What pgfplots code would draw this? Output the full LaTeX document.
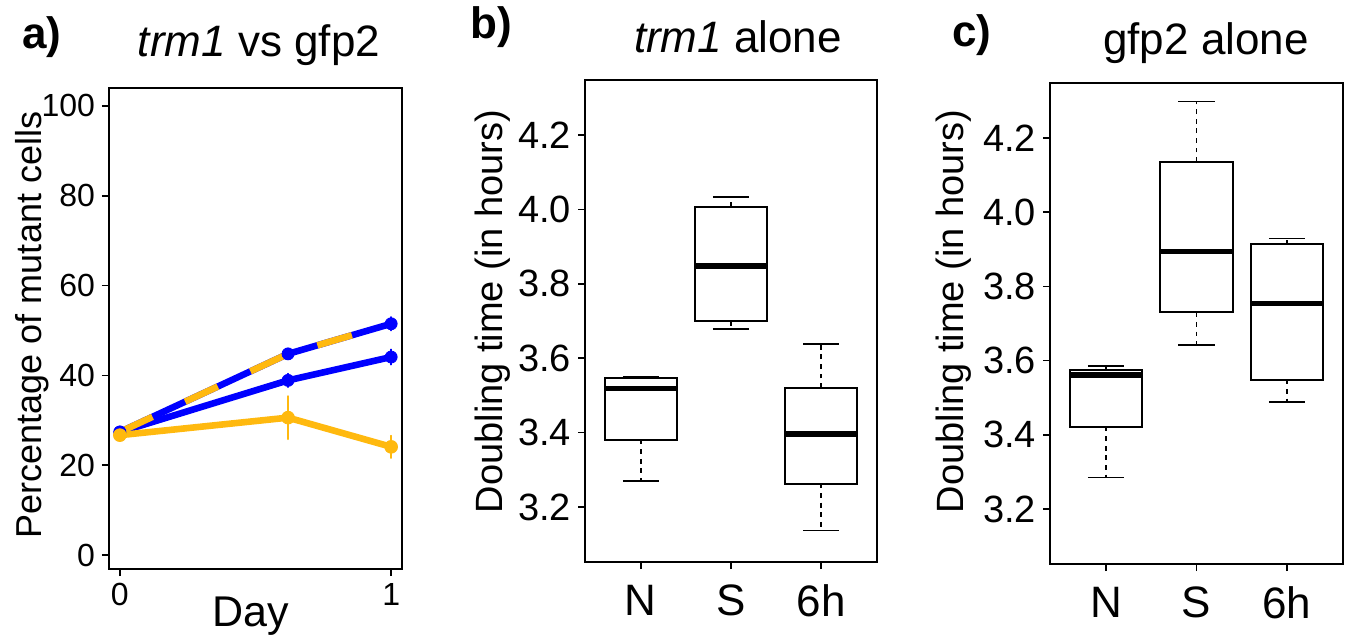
\documentclass[border=0pt]{standalone}
\usepackage{fontspec}
\setmainfont{Liberation Sans}
\usepackage{pgfplots}
\usepackage{pgfplotstable}
\pgfplotsset{compat=1.18}
\usepgfplotslibrary{statistics}
\definecolor{rblue}{RGB}{0,0,255}
\definecolor{rorange}{RGB}{255,185,15}

\pgfplotstableread{
x y e
0 27.4 0.0
0.62 38.9 1.5
1 44.1 1.7
}\bluesolid
\pgfplotstableread{
x y e
0 27.4 0.0
0.62 44.8 1.2
1 51.5 1.5
}\bluedash
\pgfplotstableread{
x y e
0 26.7 1.0
0.62 30.6 4.8
1 24.1 2.5
}\orangesolid

\pgfplotsset{
  rframe/.style={
    scale only axis, anchor=south west,
    axis line style={line width=1pt},
    tick pos=left, tick align=outside, major tick length=3.5pt,
    every tick/.style={black, line width=0.8pt},
    /pgf/number format/assume math mode=true,
  },
  rbox/.style={
    rframe,
    xmin=0.38, xmax=3.62, ymin=3.052, ymax=4.348,
    xtick={1,2,3}, xticklabels={N,S,6h},
    ytick={3.2,3.4,3.6,3.8,4.0,4.2},
    yticklabel style={font=\fontsize{19}{19}\selectfont,
      /pgf/number format/fixed, /pgf/number format/fixed zerofill,
      /pgf/number format/precision=1},
    xticklabel style={font=\fontsize{22}{22}\selectfont, yshift=-4.5pt},
    boxplot/draw direction=y,
    boxplot/box extend=0.8,
    boxplot/whisker extend=0.4,
    boxplot/every box/.style={line width=1pt, fill=white},
    boxplot/every median/.style={line width=2.6pt},
    boxplot/draw/lower whisker/.code={%
      \draw[line width=0.8pt, dash pattern=on 2.4pt off 2.4pt]
        (boxplot cs:\pgfplotsboxplotvalue{lower quartile}) --
        (boxplot cs:\pgfplotsboxplotvalue{lower whisker});
      \draw[line width=0.8pt]
        (boxplot whisker cs:\pgfplotsboxplotvalue{lower whisker},0) --
        (boxplot whisker cs:\pgfplotsboxplotvalue{lower whisker},1);
    },
    boxplot/draw/upper whisker/.code={%
      \draw[line width=0.8pt, dash pattern=on 2.4pt off 2.4pt]
        (boxplot cs:\pgfplotsboxplotvalue{upper quartile}) --
        (boxplot cs:\pgfplotsboxplotvalue{upper whisker});
      \draw[line width=0.8pt]
        (boxplot whisker cs:\pgfplotsboxplotvalue{upper whisker},0) --
        (boxplot whisker cs:\pgfplotsboxplotvalue{upper whisker},1);
    },
  },
}

\begin{document}
\begin{tikzpicture}
\path[use as bounding box] (0pt,0pt) rectangle (674pt,318.5pt);

% ---------- panel a ----------
\begin{axis}[rframe,
  at={(54.5pt,34pt)}, width=146.5pt, height=240.5pt,
  xmin=-0.04, xmax=1.04, ymin=-3.1, ymax=104,
  xtick={0,1}, ytick={0,20,40,60,80,100},
  ticklabel style={font=\fontsize{16}{16}\selectfont},
  clip=false]
\addplot[rblue, line width=3.3pt, line join=round, line cap=round,
  mark=*, mark size=3pt, mark options={solid, line width=0.4pt},
  error bars/.cd, y dir=both, y explicit, error mark=none,
  error bar style={line width=0.8pt, rblue}]
  table[x=x, y=y, y error=e] {\bluesolid};
\addplot[rblue, line width=3.3pt, line join=round, line cap=round,
  mark=*, mark size=3pt, mark options={solid, line width=0.4pt},
  error bars/.cd, y dir=both, y explicit, error mark=none,
  error bar style={line width=0.8pt, rblue}]
  table[x=x, y=y, y error=e] {\bluedash};
\addplot[rorange, line width=3.3pt, line cap=butt, dash pattern=on 18pt off 18pt]
  table[x=x, y=y] {\bluedash};
\addplot[rorange, line width=3.3pt, line join=round, line cap=round,
  mark=*, mark size=3.2pt, mark options={solid, line width=0.4pt},
  error bars/.cd, y dir=both, y explicit, error mark=none,
  error bar style={line width=0.8pt, rorange}]
  table[x=x, y=y, y error=e] {\orangesolid};
\end{axis}

% ---------- panel b ----------
\begin{axis}[rbox, at={(292.5pt,37.5pt)}, width=146pt, height=241pt]
\addplot[black, boxplot prepared={draw position=1, lower whisker=3.269,
  lower quartile=3.381, median=3.518, upper quartile=3.547, upper whisker=3.550}]
  coordinates {};
\addplot[black, boxplot prepared={draw position=2, lower whisker=3.679,
  lower quartile=3.699, median=3.848, upper quartile=4.007, upper whisker=4.034}]
  coordinates {};
\addplot[black, boxplot prepared={draw position=3, lower whisker=3.137,
  lower quartile=3.263, median=3.396, upper quartile=3.520, upper whisker=3.638}]
  coordinates {};
\end{axis}

% ---------- panel c ----------
\begin{axis}[rbox, at={(525pt,36.5pt)}, width=146.5pt, height=240.5pt]
\addplot[black, boxplot prepared={draw position=1, lower whisker=3.285,
  lower quartile=3.422, median=3.561, upper quartile=3.574, upper whisker=3.586}]
  coordinates {};
\addplot[black, boxplot prepared={draw position=2, lower whisker=3.642,
  lower quartile=3.730, median=3.894, upper quartile=4.135, upper whisker=4.298}]
  coordinates {};
\addplot[black, boxplot prepared={draw position=3, lower whisker=3.489,
  lower quartile=3.549, median=3.754, upper quartile=3.913, upper whisker=3.929}]
  coordinates {};
\end{axis}

% ---------- texts ----------
\node[anchor=base west, inner sep=0pt, font=\fontsize{22}{22}\selectfont\bfseries] at (11pt,294pt) {a)};
\node[anchor=base, inner sep=0pt, font=\fontsize{22}{22}\selectfont] at (129.5pt,290pt) {\textit{trm1} vs gfp2};
\node[anchor=base west, inner sep=0pt, font=\fontsize{22}{22}\selectfont\bfseries] at (235pt,299pt) {b)};
\node[anchor=base, inner sep=0pt, font=\fontsize{22}{22}\selectfont] at (369pt,292pt) {\textit{trm1} alone};
\node[anchor=base west, inner sep=0pt, font=\fontsize{22}{22}\selectfont\bfseries] at (476pt,295pt) {c)};
\node[anchor=base, inner sep=0pt, font=\fontsize{22}{22}\selectfont] at (603pt,291pt) {gfp2 alone};
\node[rotate=90, anchor=base, inner sep=0pt, font=\fontsize{18}{18}\selectfont] at (20.5pt,156pt) {Percentage of mutant cells};
\node[rotate=90, anchor=base, inner sep=0pt, font=\fontsize{19}{19}\selectfont] at (251pt,162.75pt) {Doubling time (in hours)};
\node[rotate=90, anchor=base, inner sep=0pt, font=\fontsize{19}{19}\selectfont] at (481.5pt,162.75pt) {Doubling time (in hours)};
\node[anchor=base, inner sep=0pt, font=\fontsize{21.5}{21.5}\selectfont] at (125.5pt,5.5pt) {Day};
\end{tikzpicture}
\end{document}
